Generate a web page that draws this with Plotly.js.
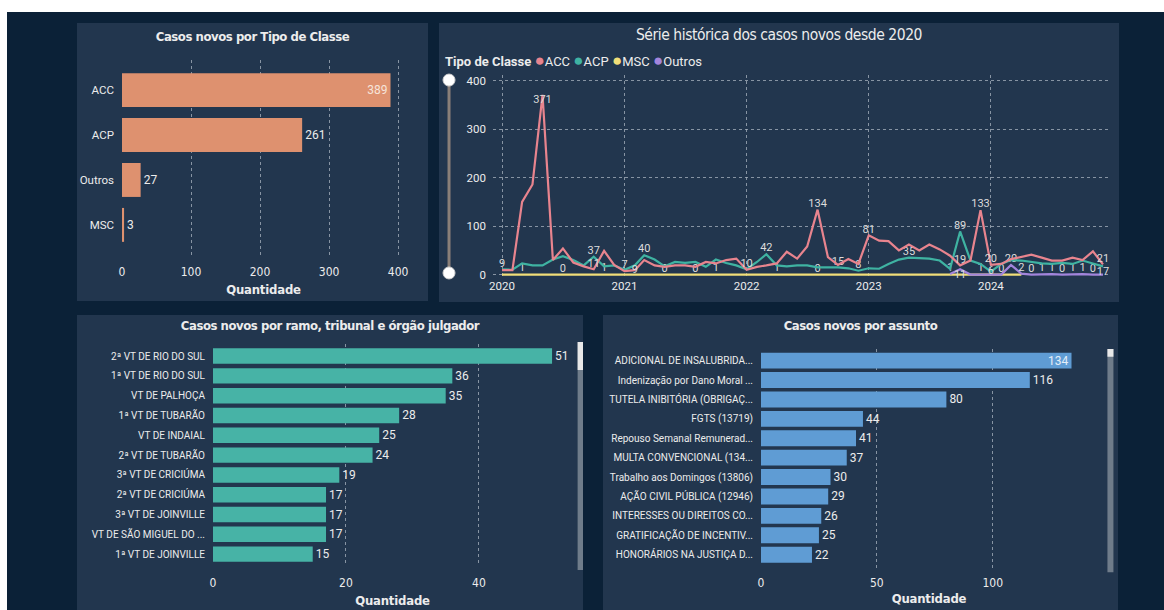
<!DOCTYPE html>
<html><head><meta charset="utf-8">
<script src="https://cdn.plot.ly/plotly-3.0.1.min.js"></script>
<style>
html,body{margin:0;padding:0;background:#ffffff;width:1164px;height:610px;overflow:hidden}
#bg{position:absolute;left:7px;top:12px;width:1157px;height:598px;background:#0b2137}
.panel{position:absolute}
.gtitle{letter-spacing:-0.45px}
.xtitle{letter-spacing:-0.2px}
</style></head><body>
<div id="bg"></div>
<div id="p1" class="panel" style="left:77px;top:23px;width:351px;height:278px"></div>
<div id="p2" class="panel" style="left:439px;top:23px;width:680px;height:279px"></div>
<div id="p3" class="panel" style="left:77px;top:315px;width:506px;height:295px"></div>
<div id="p4" class="panel" style="left:603px;top:315px;width:515px;height:295px"></div>
<script>
// ---------- DATA ----------
const tipoClasse = ['ACC', 'ACP', 'Outros', 'MSC'];
const tipoQtd = [389, 261, 27, 3];

const meses = [
 '2020-01-01','2020-02-01','2020-03-01','2020-04-01','2020-05-01','2020-06-01','2020-07-01','2020-08-01','2020-09-01','2020-10-01','2020-11-01','2020-12-01',
 '2021-01-01','2021-02-01','2021-03-01','2021-04-01','2021-05-01','2021-06-01','2021-07-01','2021-08-01','2021-09-01','2021-10-01','2021-11-01','2021-12-01',
 '2022-01-01','2022-02-01','2022-03-01','2022-04-01','2022-05-01','2022-06-01','2022-07-01','2022-08-01','2022-09-01','2022-10-01','2022-11-01','2022-12-01',
 '2023-01-01','2023-02-01','2023-03-01','2023-04-01','2023-05-01','2023-06-01','2023-07-01','2023-08-01','2023-09-01','2023-10-01','2023-11-01','2023-12-01',
 '2024-01-01','2024-02-01','2024-03-01','2024-04-01','2024-05-01','2024-06-01','2024-07-01','2024-08-01','2024-09-01','2024-10-01','2024-11-01','2024-12-01'];
const serieACC = [9,9,150,186,371,30,54,25,17,11,49,20, 7,9,30,19,16,19,19,16,26,23,30,33,
                  10,16,19,23,47,33,58,134,36,20,32,22, 81,70,69,50,62,50,62,52,39,19,29,133,
                  20,22,32,37,41,35,29,29,35,30,48,21];
const serieACP = [11,10,23,19,19,31,38,30,19,37,17,19, 10,19,40,31,17,26,24,26,16,31,24,19,
                  11,26,42,19,17,19,19,15,15,15,13,8, 13,12,22,31,35,34,33,29,12,89,29,22,
                  6,22,30,29,26,23,22,24,22,29,23,17];
const mesesMSC = meses.slice(0, 52);
const serieMSC = [0,0,1,0,0,0,0,0,0,0,1,0, 0,0,0,0,0,0,0,0,0,1,0,0,
                  0,0,0,1,0,0,0,0,0,0,0,0, 0,0,0,0,0,0,0,0,0,0,0,1, 0,0,0,0];
const mesesOutros = meses.slice(44);
const serieOutros = [1,11,0,0,0,0,20,2,0,1,1,0,1,1,0,0];
// indices (within each series) whose value is shown as a data label
const rotACC = [0,4,9,12,13,24,31,36,45,47,48,59];
const rotACP = [9,14,26,33,35,40,45,48,59];
const rotMSC = [2,6,10,16,19,21,27,31,47,49];
const rotOutros = [0,1,6,7,8,9,10,11,12,13,14];
const abaixoACC = [4];
const centroACC = [13];
const abaixoACP = [59];
const centroACP = [48];
const abaixoOutros = [1];

const orgaos = ['2ª VT DE RIO DO SUL','1ª VT DE RIO DO SUL','VT DE PALHOÇA','1ª VT DE TUBARÃO','VT DE INDAIAL',
  '2ª VT DE TUBARÃO','3ª VT DE CRICIÚMA','2ª VT DE CRICIÚMA','3ª VT DE JOINVILLE','VT DE SÃO MIGUEL DO ...','1ª VT DE JOINVILLE'];
const orgaoQtd = [51,36,35,28,25,24,19,17,17,17,15];

const assuntos = ['ADICIONAL DE INSALUBRIDA...','Indenização por Dano Moral ...','TUTELA INIBITÓRIA (OBRIGAÇ...',
  'FGTS (13719)','Repouso Semanal Remunerad...','MULTA CONVENCIONAL (134...','Trabalho aos Domingos (13806)',
  'AÇÃO CIVIL PÚBLICA (12946)','INTERESSES OU DIREITOS CO...','GRATIFICAÇÃO DE INCENTIV...','HONORÁRIOS NA JUSTIÇA D...'];
const assuntoQtd = [134,116,80,44,41,37,30,29,26,25,22];

// ---------- STYLE ----------
const panelBg = '#22364e';
const gridC = 'rgba(170,180,192,0.75)';
const txt = '#ececec';
const uiFont = 'Roboto, "Open Sans", sans-serif';
const tFont = '"DejaVu Sans Condensed", Roboto, sans-serif';
const cfg = {displayModeBar:false, staticPlot:true};

function barLayout(o){
  return {
    paper_bgcolor: panelBg, plot_bgcolor: panelBg,
    width: o.w, height: o.h, showlegend:false,
    margin: o.m,
    title: {text: '<b>'+o.title+'</b>', x:0.5, xanchor:'center', y:o.ty, yanchor:'middle', yref:'container',
            font:{family:tFont, size:13, color:txt}},
    xaxis: {range:o.xr, dtick:o.dtick, tick0:0, showgrid:true, gridcolor:gridC, griddash:'dot', gridwidth:1,
            zeroline:false, showline:false, ticks:'', ticklabelstandoff:o.stand,
            tickfont:{family:tFont, size:12, color:txt},
            title:{text:'<b>Quantidade</b>', standoff:o.tstand, font:{family:tFont, size:13, color:txt}}},
    yaxis: {type:'category', range:o.yr, showgrid:false, zeroline:false, showline:false, ticks:'',
            ticklabelstandoff:o.ystand,
            tickfont:{family:uiFont, size:o.yfs, color:txt}},
    bargap: o.gap,
    shapes: o.shapes || []
  };
}

// ---------- PANEL 1 ----------
Plotly.newPlot('p1', [{
  type:'bar', orientation:'h', y:tipoClasse, x:tipoQtd,
  marker:{color:'#de916f'},
  text: tipoQtd.map(String), textposition:['inside','outside','outside','outside'],
  insidetextanchor:'end', constraintext:'none', cliponaxis:false,
  insidetextfont:{family:uiFont, size:12, color:'#f6e4da'},
  outsidetextfont:{family:uiFont, size:12, color:txt},
  hoverinfo:'none'
}], barLayout({w:351, h:278, m:{l:45, r:23, t:37, b:46}, title:'Casos novos por Tipo de Classe', ty:0.953,
  xr:[0,410], dtick:100, stand:8, tstand:6, yr:[3.67,-0.67], ystand:7, yfs:11.5, gap:0.245}), cfg);

// ---------- PANEL 2 ----------
function labels(vals, idx){ return vals.map((v,i)=> idx.includes(i) ? String(v) : ''); }
function poss(vals, below, mid){ return vals.map((v,i)=> below.includes(i) ? 'bottom center' : (mid.includes(i) ? 'middle center' : 'top center')); }
const lf = {family:uiFont, size:11, color:'#dcdcdc'};
const cACC = '#e8848e', cACP = '#3fb3a2', cMSC = '#f1de79', cOut = '#a385dc';
const traces2 = [
  {x:mesesMSC, y:serieMSC, name:'MSC', line:{color:cMSC}, text:labels(serieMSC, rotMSC), textposition:'top center'},
  {x:mesesOutros, y:serieOutros, name:'Outros', line:{color:cOut}, text:labels(serieOutros, rotOutros), textposition:poss(serieOutros, abaixoOutros, [])},
  {x:meses, y:serieACP, name:'ACP', line:{color:cACP}, text:labels(serieACP, rotACP), textposition:poss(serieACP, abaixoACP, centroACP)},
  {x:meses, y:serieACC, name:'ACC', line:{color:cACC}, text:labels(serieACC, rotACC), textposition:poss(serieACC, abaixoACC, centroACC)}
].map(t => Object.assign({type:'scatter', mode:'lines+text', textfont:lf, cliponaxis:false, hoverinfo:'none'}, t, {line:Object.assign({width:2.2}, t.line)}));

const sx = -0.0715;
const dot = c => '<span style="color:'+c+';font-size:17px">●</span>';
Plotly.newPlot('p2', traces2, {
  paper_bgcolor: panelBg, plot_bgcolor: panelBg, width:680, height:279, showlegend:false,
  margin:{l:54, r:11, t:52, b:25},
  title:{text:'Série histórica dos casos novos desde 2020', x:0.5, xanchor:'center', y:0.96, yanchor:'middle', yref:'container',
         font:{family:tFont, size:15.5, color:txt}},
  xaxis:{type:'date', range:['2019-12-05','2024-12-16'], tick0:'2020-01-01', dtick:'M12', tickformat:'%Y',
         showgrid:true, gridcolor:gridC, griddash:'dot', zeroline:false, showline:false, ticks:'',
         ticklabelstandoff:0, tickfont:{family:uiFont, size:11.5, color:txt}},
  yaxis:{range:[-5,412], dtick:100, showgrid:true, gridcolor:gridC, griddash:'dot', zeroline:false, showline:false,
         ticks:'', ticklabelstandoff:6, tickfont:{family:uiFont, size:11.5, color:txt}},
  annotations:[{xref:'paper', yref:'paper', x:-0.0813, y:1.074, xanchor:'left', yanchor:'middle', showarrow:false,
    font:{family:uiFont, size:13, color:txt},
    text:'<b>Tipo de Classe</b> '+dot(cACC)+'ACC '+dot(cACP)+'ACP '+dot(cMSC)+'MSC '+dot(cOut)+'Outros'}],
  shapes:[
    {type:'line', xref:'paper', yref:'paper', x0:sx, x1:sx, y0:0.02, y1:0.975, line:{color:'#8a7f78', width:3}},
    {type:'circle', xref:'paper', yref:'paper', xsizemode:'pixel', ysizemode:'pixel', xanchor:sx, yanchor:0.975,
     x0:-6, x1:6, y0:-6, y1:6, fillcolor:'#ffffff', line:{color:'#d0d0d0', width:1}},
    {type:'circle', xref:'paper', yref:'paper', xsizemode:'pixel', ysizemode:'pixel', xanchor:sx, yanchor:0.02,
     x0:-6, x1:6, y0:-6, y1:6, fillcolor:'#ffffff', line:{color:'#d0d0d0', width:1}}
  ]
}, cfg);

// ---------- PANEL 3 ----------
Plotly.newPlot('p3', [{
  type:'bar', orientation:'h', y:orgaos, x:orgaoQtd, marker:{color:'#47b3a6'},
  text: orgaoQtd.map(String), textposition:'outside', constraintext:'none', cliponaxis:false,
  outsidetextfont:{family:uiFont, size:12, color:txt}, hoverinfo:'none'
}], barLayout({w:506, h:295, m:{l:136, r:11, t:29, b:44}, title:'Casos novos por ramo, tribunal e órgão julgador', ty:0.963,
  xr:[0,54], dtick:20, stand:8, tstand:6, yr:[10.6,-0.61], ystand:7, yfs:10, gap:0.22,
  shapes:[
    {type:'rect', xref:'paper', yref:'paper', xsizemode:'pixel', xanchor:1.024, x0:-3, x1:3, y0:-0.018, y1:1.009,
     fillcolor:'#6f7c8a', line:{width:0}},
    {type:'rect', xref:'paper', yref:'paper', xsizemode:'pixel', xanchor:1.024, x0:-3, x1:3, y0:0.883, y1:1.009,
     fillcolor:'#e8e8e8', line:{width:0}}
  ]}), cfg);

// ---------- PANEL 4 ----------
Plotly.newPlot('p4', [{
  type:'bar', orientation:'h', y:assuntos, x:assuntoQtd, marker:{color:'#5f9cd4'},
  text: assuntoQtd.map(String), textposition:['inside','outside','outside','outside','outside','outside','outside','outside','outside','outside','outside'],
  insidetextanchor:'end', constraintext:'none', cliponaxis:false,
  insidetextfont:{family:uiFont, size:12, color:'#e4eef8'},
  outsidetextfont:{family:uiFont, size:12, color:txt}, hoverinfo:'none'
}], barLayout({w:515, h:295, m:{l:158, r:21, t:34, b:40}, title:'Casos novos por assunto', ty:0.963,
  xr:[0,145], dtick:50, stand:4, tstand:4, yr:[10.79,-0.6], ystand:7, yfs:10, gap:0.18,
  shapes:[
    {type:'rect', xref:'paper', yref:'paper', xsizemode:'pixel', xanchor:1.04, x0:-3, x1:3, y0:-0.01, y1:1.0,
     fillcolor:'#6f7c8a', line:{width:0}},
    {type:'rect', xref:'paper', yref:'paper', xsizemode:'pixel', xanchor:1.04, x0:-3, x1:3, y0:0.965, y1:1.0,
     fillcolor:'#e8e8e8', line:{width:0}}
  ]}), cfg);
</script>
</body></html>
